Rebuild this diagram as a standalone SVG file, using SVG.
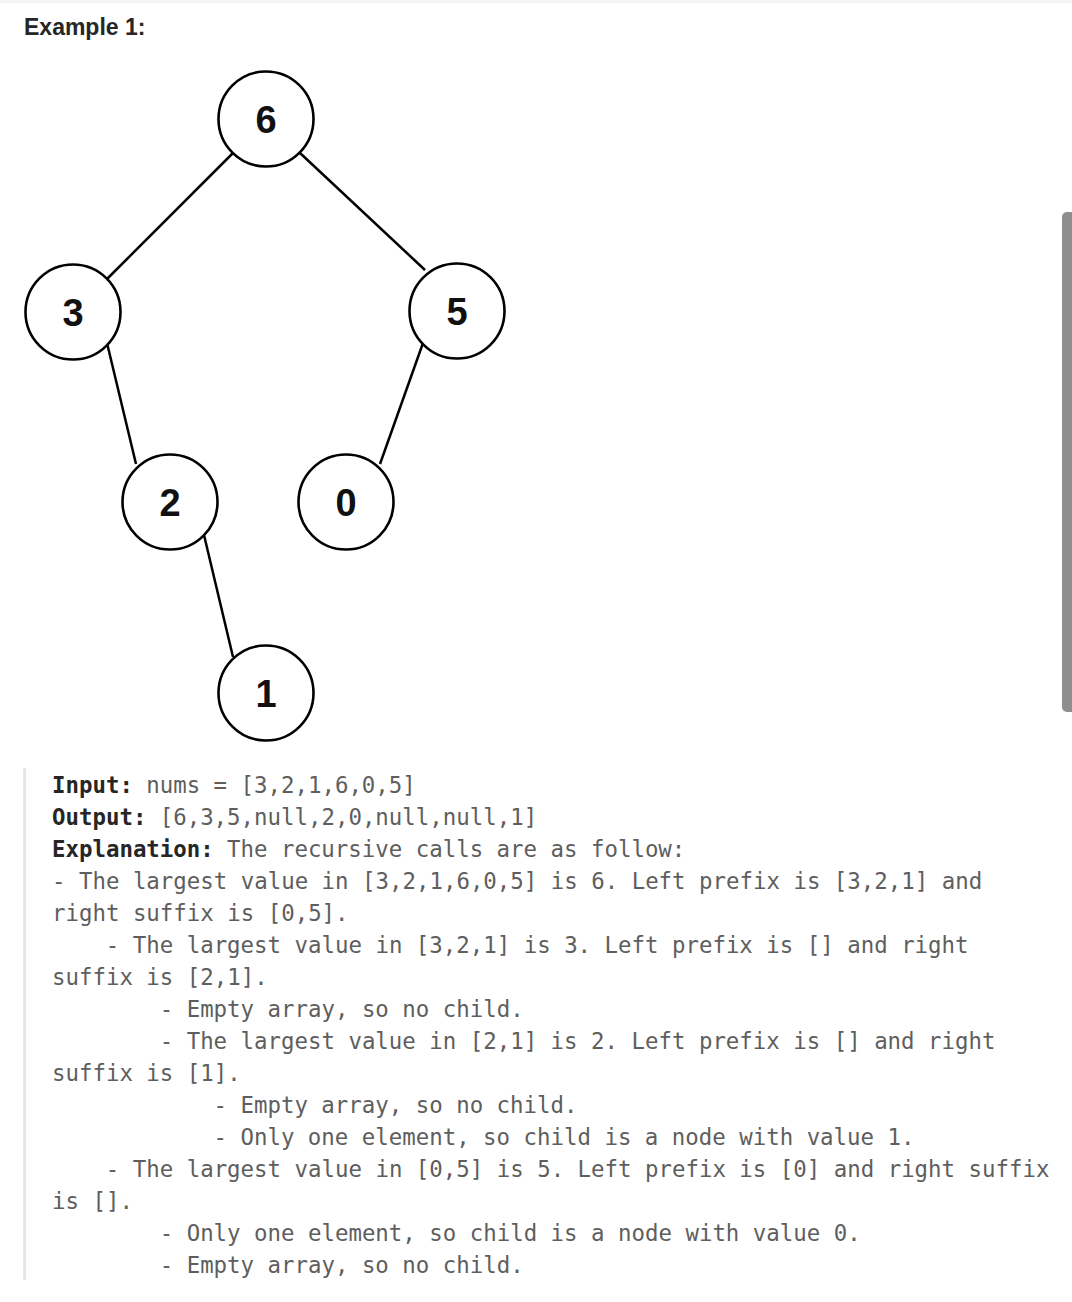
<svg xmlns="http://www.w3.org/2000/svg" width="1072" height="1302" viewBox="0 0 1072 1302">
<style>
.node circle{fill:#fff;stroke:#000;stroke-width:2.6}
.node text{font-family:"Liberation Sans",Arial,sans-serif;font-weight:bold;font-size:38px;fill:#111;text-anchor:middle}
.edges line{stroke:#000;stroke-width:2.5}
.t{font-family:"DejaVu Sans Mono","Liberation Mono",monospace;font-size:22.4px;fill:#5e5e5e}
.b{font-weight:bold;fill:#262626}
.h{font-family:"Liberation Sans",Arial,sans-serif;font-weight:bold;font-size:23px;fill:#262626}
</style>
<rect x="0" y="0" width="1072" height="1302" fill="#fff"/>
<rect x="0" y="0" width="1072" height="3" fill="#f3f3f3"/>
<text class="h" x="24" y="35">Example 1:</text>
<rect x="1062" y="212" width="16" height="500" rx="5" fill="#8e8e8e"/>
<g class="edges">
<line x1="233" y1="153" x2="107" y2="279"/>
<line x1="300" y1="153" x2="425" y2="270"/>
<line x1="107" y1="343" x2="136" y2="464"/>
<line x1="423" y1="343" x2="380" y2="464"/>
<line x1="204" y1="535" x2="233" y2="657"/>
</g>
<g id="n6" class="node"><circle cx="266" cy="119" r="47.5"/><text x="266" y="132.5">6</text></g>
<g id="n3" class="node"><circle cx="73" cy="312" r="47.5"/><text x="73" y="325.5">3</text></g>
<g id="n5" class="node"><circle cx="457" cy="311" r="47.5"/><text x="457" y="324.5">5</text></g>
<g id="n2" class="node"><circle cx="170" cy="502" r="47.5"/><text x="170" y="515.5">2</text></g>
<g id="n0" class="node"><circle cx="346" cy="502" r="47.5"/><text x="346" y="515.5">0</text></g>
<g id="n1" class="node"><circle cx="266" cy="693" r="47.5"/><text x="266" y="706.5">1</text></g>
<rect x="23" y="768" width="3" height="512" fill="#e6e6e6"/>
<g class="t">
<text x="52" y="793"><tspan class="b">Input:</tspan><tspan x="146.2">nums = [3,2,1,6,0,5]</tspan></text>
<text x="52" y="825"><tspan class="b">Output:</tspan><tspan x="159.7">[6,3,5,null,2,0,null,null,1]</tspan></text>
<text x="52" y="857"><tspan class="b">Explanation:</tspan><tspan x="227">The recursive calls are as follow:</tspan></text>
<text x="52" y="889">- The largest value in [3,2,1,6,0,5] is 6. Left prefix is [3,2,1] and</text>
<text x="52" y="921">right suffix is [0,5].</text>
<text x="105.8" y="953">- The largest value in [3,2,1] is 3. Left prefix is [] and right</text>
<text x="52" y="985">suffix is [2,1].</text>
<text x="159.7" y="1017">- Empty array, so no child.</text>
<text x="159.7" y="1049">- The largest value in [2,1] is 2. Left prefix is [] and right</text>
<text x="52" y="1081">suffix is [1].</text>
<text x="213.5" y="1113">- Empty array, so no child.</text>
<text x="213.5" y="1145">- Only one element, so child is a node with value 1.</text>
<text x="105.8" y="1177">- The largest value in [0,5] is 5. Left prefix is [0] and right suffix</text>
<text x="52" y="1209">is [].</text>
<text x="159.7" y="1241">- Only one element, so child is a node with value 0.</text>
<text x="159.7" y="1273">- Empty array, so no child.</text>
</g>
</svg>
